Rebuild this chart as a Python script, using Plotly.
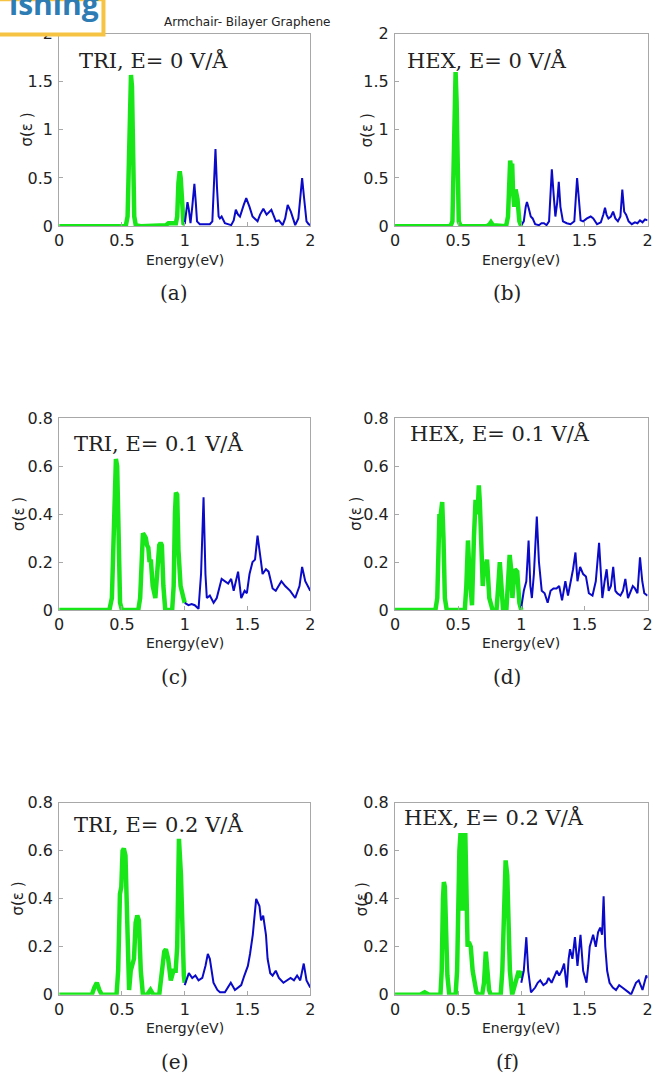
import plotly.graph_objects as go

# ---------------- data ----------------
# (a) TRI, E = 0 V/A
a_green_E = [0, 0.50, 0.53, 0.545, 0.555, 0.563, 0.572, 0.58, 0.588, 0.598, 0.61, 0.65, 0.85, 0.87, 0.93, 0.94, 0.95, 0.96, 0.968, 0.978, 0.99, 1.0]
a_green_s = [0, 0, 0.0, 0.1, 0.8, 1.5, 1.57, 1.45, 0.8, 0.1, 0.01, 0, 0.01, 0.03, 0.03, 0.1, 0.45, 0.57, 0.5, 0.15, 0.03, 0.02]
a_blue_E = [1.0, 1.01, 1.022, 1.032, 1.046, 1.06, 1.077, 1.088, 1.098, 1.12, 1.2, 1.22, 1.235, 1.245, 1.257, 1.27, 1.28, 1.294, 1.32, 1.37, 1.39, 1.407, 1.425, 1.44, 1.47, 1.49, 1.516, 1.54, 1.58, 1.6, 1.626, 1.652, 1.69, 1.71, 1.726, 1.75, 1.78, 1.8, 1.82, 1.845, 1.88, 1.905, 1.922, 1.935, 1.95, 1.97, 1.987, 2.0]
a_blue_s = [0.02, 0.15, 0.25, 0.18, 0.03, 0.2, 0.44, 0.25, 0.05, 0.02, 0.02, 0.05, 0.5, 0.80, 0.4, 0.1, 0.08, 0.1, 0.03, 0.01, 0.06, 0.17, 0.12, 0.1, 0.22, 0.29, 0.2, 0.1, 0.05, 0.12, 0.18, 0.12, 0.17, 0.1, 0.05, 0.06, 0.01, 0.08, 0.22, 0.15, 0.01, 0.08, 0.35, 0.50, 0.3, 0.05, 0.02, 0.01]

# (b) HEX, E = 0 V/A
b_green_E = [0, 0.44, 0.455, 0.465, 0.472, 0.48, 0.488, 0.495, 0.505, 0.52, 0.73, 0.75, 0.76, 0.775, 0.88, 0.895, 0.905, 0.912, 0.92, 0.928, 0.935, 0.945, 0.955, 0.962, 0.97, 0.985, 1.0]
b_green_s = [0, 0, 0.05, 0.6, 1.4, 1.6, 1.3, 0.4, 0.05, 0, 0, 0.02, 0.04, 0.01, 0, 0.1, 0.66, 0.68, 0.6, 0.65, 0.35, 0.2, 0.38, 0.35, 0.28, 0.05, 0.0]
b_blue_E = [1.0, 1.02, 1.035, 1.045, 1.06, 1.075, 1.09, 1.11, 1.14, 1.16, 1.18, 1.2, 1.22, 1.232, 1.242, 1.255, 1.27, 1.285, 1.297, 1.31, 1.33, 1.36, 1.39, 1.42, 1.432, 1.442, 1.455, 1.47, 1.49, 1.52, 1.55, 1.57, 1.6, 1.63, 1.65, 1.663, 1.675, 1.69, 1.71, 1.727, 1.745, 1.765, 1.785, 1.8, 1.815, 1.83, 1.85, 1.875, 1.9, 1.92, 1.94, 1.96, 1.98, 2.0]
b_blue_s = [0.01, 0.05, 0.2, 0.25, 0.18, 0.1, 0.08, 0.02, 0.01, 0.03, 0.03, 0.01, 0.05, 0.3, 0.59, 0.35, 0.1, 0.25, 0.46, 0.2, 0.05, 0.03, 0.02, 0.05, 0.3, 0.50, 0.3, 0.06, 0.05, 0.08, 0.1, 0.08, 0.02, 0.04, 0.12, 0.19, 0.12, 0.08, 0.1, 0.15, 0.08, 0.05, 0.1, 0.38, 0.15, 0.12, 0.05, 0.02, 0.04, 0.03, 0.06, 0.04, 0.07, 0.06]

# (c) TRI, E = 0.1 V/A
c_green_E = [0, 0.40, 0.42, 0.435, 0.445, 0.452, 0.462, 0.472, 0.485, 0.5, 0.63, 0.645, 0.655, 0.667, 0.68, 0.69, 0.7, 0.71, 0.72, 0.73, 0.745, 0.766, 0.78, 0.797, 0.808, 0.818, 0.83, 0.845, 0.9, 0.912, 0.922, 0.93, 0.94, 0.95, 0.967, 0.98, 0.99, 1.0]
c_green_s = [0, 0, 0.05, 0.35, 0.6, 0.63, 0.6, 0.25, 0.03, 0, 0, 0.05, 0.25, 0.32, 0.31, 0.3, 0.27, 0.26, 0.2, 0.21, 0.1, 0.05, 0.15, 0.27, 0.28, 0.27, 0.1, 0.0, 0, 0.1, 0.4, 0.49, 0.48, 0.25, 0.1, 0.06, 0.05, 0.03]
c_blue_E = [1.0, 1.03, 1.055, 1.08, 1.11, 1.13, 1.15, 1.165, 1.176, 1.2, 1.23, 1.255, 1.294, 1.32, 1.346, 1.37, 1.39, 1.425, 1.45, 1.477, 1.495, 1.516, 1.54, 1.56, 1.58, 1.608, 1.62, 1.647, 1.668, 1.7, 1.725, 1.77, 1.8, 1.84, 1.88, 1.914, 1.935, 1.96, 2.0]
c_blue_s = [0.03, 0.02, 0.025, 0.02, 0.005, 0.15, 0.47, 0.15, 0.05, 0.06, 0.03, 0.05, 0.13, 0.12, 0.11, 0.13, 0.08, 0.16, 0.05, 0.08, 0.07, 0.15, 0.2, 0.21, 0.31, 0.2, 0.15, 0.17, 0.16, 0.09, 0.08, 0.12, 0.1, 0.08, 0.05, 0.1, 0.18, 0.12, 0.08]

# (d) HEX, E = 0.1 V/A
d_green_E = [0, 0.32, 0.335, 0.345, 0.352, 0.358, 0.365, 0.374, 0.384, 0.395, 0.41, 0.553, 0.565, 0.578, 0.59, 0.6, 0.61, 0.625, 0.638, 0.654, 0.664, 0.672, 0.68, 0.695, 0.708, 0.72, 0.729, 0.747, 0.773, 0.804, 0.818, 0.83, 0.843, 0.856, 0.882, 0.895, 0.908, 0.92, 0.93, 0.94, 0.95, 0.968, 0.985, 1.0]
d_green_s = [0, 0, 0.05, 0.3, 0.4, 0.38, 0.44, 0.45, 0.3, 0.05, 0, 0, 0.1, 0.29, 0.15, 0.05, 0.02, 0.3, 0.46, 0.4, 0.52, 0.45, 0.3, 0.1, 0.2, 0.18, 0.21, 0.05, 0.0, 0, 0.1, 0.2, 0.1, 0.0, 0, 0.1, 0.23, 0.17, 0.05, 0.12, 0.17, 0.16, 0.03, 0]
d_blue_E = [1.0, 1.02, 1.04, 1.058, 1.072, 1.084, 1.1, 1.123, 1.14, 1.162, 1.185, 1.209, 1.232, 1.255, 1.279, 1.3, 1.323, 1.349, 1.37, 1.396, 1.41, 1.429, 1.445, 1.466, 1.49, 1.512, 1.535, 1.564, 1.59, 1.616, 1.642, 1.66, 1.676, 1.692, 1.71, 1.728, 1.745, 1.76, 1.785, 1.805, 1.824, 1.845, 1.865, 1.883, 1.9, 1.92, 1.94, 1.958, 1.974, 2.0]
d_blue_s = [0.01, 0.08, 0.12, 0.29, 0.1, 0.05, 0.15, 0.39, 0.2, 0.08, 0.07, 0.03, 0.08, 0.09, 0.09, 0.1, 0.04, 0.12, 0.06, 0.13, 0.17, 0.24, 0.12, 0.18, 0.15, 0.14, 0.07, 0.06, 0.12, 0.28, 0.05, 0.12, 0.17, 0.08, 0.1, 0.18, 0.08, 0.07, 0.06, 0.08, 0.13, 0.05, 0.08, 0.1, 0.09, 0.07, 0.22, 0.12, 0.07, 0.06]

# (e) TRI, E = 0.2 V/A
e_green_E = [0, 0.26, 0.28, 0.3, 0.32, 0.34, 0.457, 0.47, 0.484, 0.495, 0.505, 0.515, 0.528, 0.55, 0.557, 0.57, 0.583, 0.596, 0.609, 0.622, 0.635, 0.65, 0.667, 0.7, 0.727, 0.75, 0.797, 0.81, 0.837, 0.85, 0.868, 0.889, 0.91, 0.928, 0.94, 0.954, 0.97, 0.993, 1.0]
e_green_s = [0, 0, 0.03, 0.05, 0.02, 0, 0, 0.1, 0.42, 0.45, 0.6, 0.61, 0.58, 0.1, 0.02, 0.1, 0.13, 0.15, 0.3, 0.33, 0.31, 0.1, 0.0, 0, 0.02, 0, 0, 0.05, 0.18, 0.19, 0.15, 0.06, 0.1, 0.1, 0.2, 0.65, 0.5, 0.08, 0.05]
e_blue_E = [1.0, 1.033, 1.06, 1.085, 1.11, 1.14, 1.165, 1.184, 1.2, 1.229, 1.26, 1.281, 1.32, 1.345, 1.367, 1.4, 1.45, 1.475, 1.503, 1.52, 1.542, 1.569, 1.595, 1.608, 1.625, 1.647, 1.66, 1.681, 1.7, 1.725, 1.75, 1.786, 1.81, 1.843, 1.87, 1.895, 1.92, 1.948, 1.97, 2.0]
e_blue_s = [0.04, 0.09, 0.07, 0.08, 0.06, 0.07, 0.12, 0.17, 0.15, 0.05, 0.02, 0.01, 0.01, 0.03, 0.05, 0.02, 0.04, 0.08, 0.12, 0.17, 0.25, 0.40, 0.37, 0.31, 0.33, 0.25, 0.15, 0.09, 0.08, 0.1, 0.07, 0.05, 0.06, 0.07, 0.06, 0.08, 0.06, 0.13, 0.06, 0.03]

# (f) HEX, E = 0.2 V/A
f_green_E = [0, 0.2, 0.235, 0.27, 0.36, 0.37, 0.38, 0.387, 0.395, 0.405, 0.415, 0.43, 0.48, 0.492, 0.5, 0.51, 0.518, 0.53, 0.536, 0.542, 0.557, 0.565, 0.575, 0.585, 0.6, 0.615, 0.627, 0.645, 0.667, 0.69, 0.705, 0.719, 0.732, 0.745, 0.758, 0.837, 0.85, 0.863, 0.876, 0.889, 0.9, 0.91, 0.928, 0.954, 0.97, 0.98, 0.99, 1.0]
f_green_s = [0, 0, 0.01, 0, 0, 0.1, 0.4, 0.47, 0.45, 0.3, 0.08, 0, 0, 0.1, 0.4, 0.6, 0.665, 0.665, 0.35, 0.665, 0.665, 0.4, 0.2, 0.22, 0.2, 0.1, 0.05, 0.01, 0, 0, 0.05, 0.18, 0.1, 0.02, 0, 0, 0.1, 0.45, 0.56, 0.5, 0.25, 0.1, 0, 0.05, 0.08, 0.1, 0.07, 0.1]
f_blue_E = [1.0, 1.02, 1.04, 1.055, 1.077, 1.11, 1.13, 1.15, 1.175, 1.2, 1.216, 1.24, 1.265, 1.281, 1.3, 1.32, 1.339, 1.36, 1.375, 1.386, 1.405, 1.425, 1.445, 1.469, 1.49, 1.516, 1.53, 1.542, 1.569, 1.59, 1.608, 1.625, 1.64, 1.652, 1.665, 1.68, 1.699, 1.725, 1.75, 1.775, 1.8, 1.83, 1.85, 1.869, 1.89, 1.908, 1.93, 1.96, 1.975, 1.99, 2.0]
f_blue_s = [0.05, 0.1, 0.24, 0.1, 0.01, 0.03, 0.05, 0.06, 0.04, 0.05, 0.07, 0.05, 0.08, 0.1, 0.08, 0.1, 0.13, 0.03, 0.15, 0.19, 0.15, 0.24, 0.12, 0.25, 0.1, 0.05, 0.12, 0.2, 0.25, 0.2, 0.26, 0.28, 0.25, 0.41, 0.2, 0.1, 0.05, 0.03, 0.02, 0.04, 0.03, 0.02, 0.01, 0.0, 0.03, 0.05, 0.06, 0.02, 0.05, 0.08, 0.07]

panel_labels = ["TRI, E= 0 V/Å", "HEX, E= 0 V/Å", "TRI, E= 0.1 V/Å",
                "HEX, E= 0.1 V/Å", "TRI, E= 0.2 V/Å", "HEX, E= 0.2 V/Å"]
captions = ["(a)", "(b)", "(c)", "(d)", "(e)", "(f)"]
x_ticks = [0, 0.5, 1, 1.5, 2]
x_ticklabels = ["0", "0.5", "1", "1.5", "2"]
y_ticks_top = [0, 0.5, 1, 1.5, 2]
y_ticklabels_top = ["0", "0.5", "1", "1.5", "2"]
y_ticks_low = [0, 0.2, 0.4, 0.6, 0.8]
y_ticklabels_low = ["0", "0.2", "0.4", "0.6", "0.8"]
main_title = "Armchair- Bilayer Graphene"
x_title = "Energy(eV)"
y_title = "σ(ε )"

# ---------------- layout geometry ----------------
W, H = 657, 1086
GREEN = "rgb(25,230,25)"
BLUE = "rgb(10,10,200)"
AXC = "#a8a8a8"

def px_x(p):
    return p / W

def px_y(p):
    return 1 - p / H

col_px = [(55, 310), (396, 652.5)]
row_px = [(25, 221), (416.5, 611.7), (808, 1003.3)]
ymax = [2, 0.8, 0.8]

data = [
    (a_green_E, a_green_s, a_blue_E, a_blue_s),
    (b_green_E, b_green_s, b_blue_E, b_blue_s),
    (c_green_E, c_green_s, c_blue_E, c_blue_s),
    (d_green_E, d_green_s, d_blue_E, d_blue_s),
    (e_green_E, e_green_s, e_blue_E, e_blue_s),
    (f_green_E, f_green_s, f_blue_E, f_blue_s),
]

fig = go.Figure()
layout = dict(
    width=W, height=H, autosize=False,
    margin=dict(l=0, r=0, t=0, b=0),
    paper_bgcolor="white", plot_bgcolor="white",
    showlegend=False,
)
annotations = []
label_pos = [(73, 52), (406, 52), (68, 442), (409, 432), (68, 830), (403, 823)]
ylab_x = [22, 367, 14, 357, 13, 362]

for i, (gE, gs, bE, bs) in enumerate(data):
    r, c = divmod(i, 2)
    n = i + 1
    xa = "x" if n == 1 else f"x{n}"
    ya = "y" if n == 1 else f"y{n}"
    fig.add_trace(go.Scatter(x=gE, y=gs, mode="lines", xaxis=xa, yaxis=ya,
                             line=dict(color=GREEN, width=4.5)))
    fig.add_trace(go.Scatter(x=bE, y=bs, mode="lines", xaxis=xa, yaxis=ya,
                             line=dict(color=BLUE, width=2)))
    x0, x1 = col_px[c]
    yt, yb = row_px[r]
    ykey = "yaxis" if n == 1 else f"yaxis{n}"
    xkey = "xaxis" if n == 1 else f"xaxis{n}"
    common = dict(showline=True, mirror=True, linecolor=AXC, linewidth=1,
                  ticks="inside", ticklen=4, tickcolor=AXC, showgrid=False,
                  zeroline=False, fixedrange=True,
                  tickfont=dict(family="DejaVu Sans", size=16, color="#222"))
    layout[xkey] = dict(domain=[px_x(x0), px_x(x1)], anchor=ya, range=[0, 2],
                        tickvals=x_ticks, ticktext=x_ticklabels, **common)
    if r == 0:
        tv, tt = y_ticks_top, y_ticklabels_top
    else:
        tv, tt = y_ticks_low, y_ticklabels_low
    layout[ykey] = dict(domain=[px_y(yb), px_y(yt)], anchor=xa, range=[0, ymax[r]],
                        tickvals=tv, ticktext=tt, ticklabelstandoff=2, **common)
    # panel label
    lx, ly = label_pos[i]
    annotations.append(dict(text=panel_labels[i], x=px_x(lx), y=px_y(ly), xref="paper", yref="paper",
                            xanchor="left", yanchor="middle", showarrow=False,
                            font=dict(family="DejaVu Serif", size=21, color="#222")))
    # x title
    annotations.append(dict(text=x_title, x=px_x((x0 + x1) / 2), y=px_y(yb + 34), xref="paper", yref="paper",
                            xanchor="center", yanchor="middle", showarrow=False,
                            font=dict(family="DejaVu Sans", size=14, color="#222")))
    # y title
    annotations.append(dict(text=y_title, x=px_x(ylab_x[i]), y=px_y((yt + yb) / 2), xref="paper", yref="paper",
                            xanchor="center", yanchor="middle", showarrow=False, textangle=-90,
                            font=dict(family="DejaVu Sans", size=15, color="#222")))
    # caption
    annotations.append(dict(text=captions[i], x=px_x([172, 510][c]), y=px_y(yb + 68), xref="paper", yref="paper",
                            xanchor="center", yanchor="middle", showarrow=False,
                            font=dict(family="DejaVu Serif", size=20, color="#222")))

annotations.append(dict(text=main_title, x=px_x(246), y=px_y(13), xref="paper", yref="paper",
                        xanchor="center", yanchor="middle", showarrow=False,
                        font=dict(family="DejaVu Sans", size=12, color="#222")))
# publisher logo fragment (top-left corner)
annotations.append(dict(text="ishing", x=px_x(2), y=px_y(13), xref="paper", yref="paper",
                        xanchor="left", yanchor="bottom", showarrow=False, yshift=-4,
                        font=dict(family="Open Sans", size=30, color="rgb(45,125,180)", weight="bold")))
layout["annotations"] = annotations
layout["shapes"] = [dict(type="rect", xref="paper", yref="paper",
                         x0=px_x(-10), x1=px_x(100), y0=px_y(26), y1=px_y(-10),
                         line=dict(color="rgb(246,195,67)", width=4), fillcolor="white", layer="above")]
fig.update_layout(**layout)
fig.write_html("out.html")
